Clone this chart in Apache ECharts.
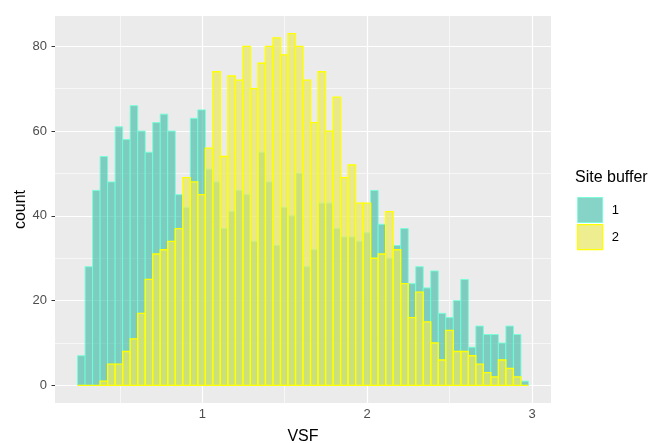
<!DOCTYPE html>
<html>
<head>
<meta charset="utf-8">
<script src="https://cdn.jsdelivr.net/npm/echarts@6/dist/echarts.min.js"></script>
<style>
  html, body { margin: 0; padding: 0; background: #fff; }
  #chart { width: 656px; height: 443px; }
</style>
</head>
<body>
<div id="chart"></div>
<script>
// histogram bins (60 bins)
const binStart = 0.244
const binWidth = 0.04557
const counts1 = [7, 28, 46, 54, 48, 61, 58, 66, 60, 55, 62, 64, 60, 45, 42, 63, 65, 51, 48, 37,
                 41, 46, 45, 34, 55, 48, 33, 42, 40, 50, 28, 32, 43, 43, 37, 35, 35, 34, 36, 46,
                 38, 30, 33, 37, 24, 28, 23, 27, 17, 16, 20, 25, 9, 14, 12, 12, 10, 14, 12, 1]
const counts2 = [0, 0, 0, 1, 5, 5, 8, 11, 17, 25, 31, 32, 34, 37, 49, 48, 45, 56, 74, 54,
                 73, 72, 80, 70, 76, 80, 82, 78, 83, 80, 72, 62, 74, 60, 68, 49, 52, 43, 43, 30,
                 31, 41, 32, 24, 16, 22, 15, 10, 6, 13, 8, 8, 7, 5, 3, 2, 6, 4, 2, 0]
const groups = ['1', '2']
const xTicks = [1, 2, 3]
const xMinor = [0.5, 1.5, 2.5]
const yTicks = [0, 20, 40, 60, 80]
const yMinor = [10, 30, 50, 70]

const fill1 = 'rgba(60,185,165,0.62)'
const line1 = 'rgba(115,255,215,0.9)'
const fill2 = 'rgba(232,232,102,0.72)'
const line2 = '#ffff00'

function toBins(counts){
    return counts.map((c, i) => [binStart + i * binWidth, binStart + (i + 1) * binWidth, c])
}

function barRenderer(fill, stroke, lw){
    return function(params, api){
        let p0 = api.coord([api.value(0), api.value(2)])
        let p1 = api.coord([api.value(1), 0])
        return {
            type: 'rect',
            shape: { x: p0[0], y: p0[1], width: p1[0] - p0[0], height: p1[1] - p0[1] },
            style: { fill: fill, stroke: stroke, lineWidth: lw }
        }
    }
}

let gridLines = []
xTicks.forEach(v => gridLines.push({ xAxis: v, lineStyle: { width: 1.2 } }))
xMinor.forEach(v => gridLines.push({ xAxis: v, lineStyle: { width: 0.6 } }))
yTicks.forEach(v => gridLines.push({ yAxis: v, lineStyle: { width: 1.2 } }))
yMinor.forEach(v => gridLines.push({ yAxis: v, lineStyle: { width: 0.6 } }))

let myChart = echarts.init(document.getElementById('chart'), null, { renderer: 'canvas' })
let option = {
    animation: false,
    backgroundColor: '#ffffff',
    textStyle: { fontFamily: 'Liberation Sans, Arial, sans-serif' },
    grid: {
        left: 55, top: 16, right: 105, bottom: 40,
        containLabel: false,
        outerBoundsMode: 'none',
        show: true, backgroundColor: '#EBEBEB', borderWidth: 0
    },
    title: {
        text: 'Site buffer',
        left: 575, top: 170,
        padding: 0,
        textStyle: { fontSize: 16, fontWeight: 'normal', color: '#000', fontFamily: 'Liberation Sans, Arial, sans-serif' }
    },
    legend: {
        left: 577, top: 197,
        orient: 'vertical',
        padding: 0,
        itemWidth: 25, itemHeight: 25, itemGap: 1,
        icon: 'rect',
        textStyle: { fontSize: 13, color: '#000', padding: [0, 0, 0, 4] },
        data: [
            { name: groups[0], itemStyle: { color: fill1, borderColor: line1, borderWidth: 1 } },
            { name: groups[1], itemStyle: { color: fill2, borderColor: line2, borderWidth: 1.3 } }
        ]
    },
    xAxis: {
        type: 'value',
        min: 0.107, max: 3.115,
        name: 'VSF',
        nameLocation: 'middle',
        nameGap: 26,
        nameMoveOverlap: false,
        nameTextStyle: { fontSize: 16, color: '#000' },
        axisLine: { show: false },
        splitLine: { show: false },
        axisTick: { show: true, length: 3.5, customValues: xTicks, lineStyle: { color: '#333', width: 1 } },
        axisLabel: { customValues: xTicks, fontSize: 13, color: '#4D4D4D', margin: 5 }
    },
    yAxis: {
        type: 'value',
        min: -4.15, max: 87.15,
        name: 'count',
        nameLocation: 'middle',
        nameGap: 26,
        nameMoveOverlap: false,
        nameTextStyle: { fontSize: 16, color: '#000' },
        axisLine: { show: false },
        splitLine: { show: false },
        axisTick: { show: true, length: 3.5, customValues: yTicks, lineStyle: { color: '#333', width: 1 } },
        axisLabel: { customValues: yTicks, fontSize: 13, color: '#4D4D4D', margin: 8 }
    },
    series: [
        {
            type: 'line',
            data: [],
            silent: true,
            markLine: {
                z: 1,
                silent: true,
                symbol: 'none',
                label: { show: false },
                lineStyle: { color: '#ffffff', type: 'solid' },
                data: gridLines
            }
        },
        {
            name: groups[0],
            type: 'custom',
            z: 2,
            renderItem: barRenderer(fill1, line1, 1),
            encode: { x: [0, 1], y: 2 },
            itemStyle: { color: fill1 },
            data: toBins(counts1)
        },
        {
            name: groups[1],
            type: 'custom',
            z: 3,
            renderItem: barRenderer(fill2, line2, 1.3),
            encode: { x: [0, 1], y: 2 },
            itemStyle: { color: fill2 },
            data: toBins(counts2)
        }
    ]
}
myChart.setOption(option, true)
</script>
</body>
</html>
